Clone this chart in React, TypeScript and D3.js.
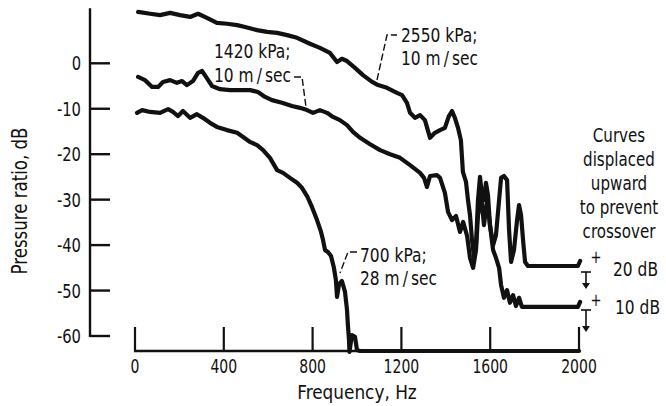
import React from "react";
import * as d3 from "d3";

// ---- data (plotted values, curves already displaced as in the original) ----
const freq2550 = [14, 68, 113, 158, 203, 248, 284, 324, 369, 414, 460, 496, 550, 595, 640, 685, 730, 788, 833, 878, 910, 932, 955, 991, 1027, 1068, 1095, 1135, 1180, 1203, 1225, 1239, 1261, 1284, 1306, 1329, 1351, 1374, 1396, 1414, 1428, 1441, 1455, 1468, 1477, 1491, 1500, 1509, 1518, 1527, 1536, 1545, 1554, 1563, 1572, 1581, 1590, 1599, 1613, 1626, 1640, 1649, 1662, 1676, 1685, 1694, 1707, 1721, 1730, 1739, 1748, 1757, 1770, 1995, 2005];
const db2550 = [11.3, 10.9, 10.6, 11.1, 10.6, 10.2, 10.9, 10.0, 8.9, 8.7, 8.4, 8.0, 7.3, 6.9, 6.7, 6.2, 5.6, 4.3, 3.4, 2.3, 0.3, 1.0, 0.5, -1.0, -2.6, -4.1, -4.8, -5.4, -6.5, -7.0, -8.7, -10.9, -12.0, -11.4, -12.5, -16.4, -15.3, -14.7, -14.2, -11.6, -10.5, -12.0, -14.2, -16.9, -23.9, -26.1, -30.1, -33.4, -38.9, -42.6, -40.0, -30.1, -25.0, -29.0, -30.1, -26.3, -29.0, -35.6, -40.0, -37.8, -30.1, -25.2, -24.8, -25.7, -36.7, -43.7, -41.1, -34.5, -31.2, -33.4, -38.9, -43.7, -44.6, -44.6, -43.5];

const freq1420 = [14, 45, 77, 104, 126, 158, 189, 212, 234, 261, 284, 302, 320, 347, 383, 428, 473, 518, 554, 586, 617, 662, 707, 743, 775, 802, 833, 865, 892, 923, 955, 982, 1014, 1059, 1104, 1149, 1194, 1239, 1284, 1302, 1315, 1329, 1360, 1374, 1396, 1410, 1428, 1446, 1464, 1478, 1496, 1509, 1523, 1536, 1545, 1559, 1572, 1586, 1599, 1613, 1626, 1640, 1649, 1662, 1676, 1689, 1703, 1716, 1730, 1743, 1995, 2005];
const db1420 = [-3.0, -3.7, -5.2, -5.2, -4.1, -3.7, -4.3, -3.9, -4.8, -3.9, -2.1, -1.7, -3.0, -5.0, -5.7, -5.9, -5.9, -5.9, -6.3, -7.4, -8.1, -8.7, -9.4, -9.8, -10.3, -10.9, -10.3, -10.9, -11.8, -12.5, -13.6, -15.1, -16.4, -17.8, -19.1, -20.0, -20.8, -22.4, -24.1, -25.2, -27.2, -24.8, -24.6, -25.2, -28.5, -32.7, -34.5, -33.6, -37.1, -34.9, -38.0, -42.8, -45.0, -41.1, -33.4, -29.0, -35.6, -30.1, -35.6, -41.1, -42.8, -45.0, -48.8, -51.6, -49.9, -52.7, -51.0, -53.4, -51.6, -53.6, -53.6, -52.5];

const freq700 = [9, 32, 68, 113, 149, 171, 194, 216, 248, 279, 306, 338, 369, 414, 460, 487, 518, 550, 577, 608, 640, 667, 698, 730, 752, 775, 797, 820, 838, 847, 856, 869, 883, 896, 905, 910, 919, 932, 946, 955, 959, 964, 966, 977, 991, 1000, 1014, 2000];
const db700 = [-10.9, -10.3, -10.7, -10.9, -10.1, -10.7, -11.6, -10.5, -12.0, -11.2, -12.0, -13.1, -14.0, -14.7, -15.3, -16.2, -17.3, -18.0, -19.1, -20.8, -23.5, -24.1, -25.2, -26.3, -27.4, -29.2, -31.6, -34.5, -37.1, -38.9, -41.1, -41.5, -42.4, -45.0, -47.7, -51.4, -48.6, -47.9, -50.3, -54.3, -57.6, -60.9, -63.5, -59.8, -60.2, -63.1, -63.3, -63.3];

const xTicks = [0, 400, 800, 1200, 1600, 2000];
const xTickLabels = ["0", "400", "800", "1200", "1600", "2000"];
const yTicks = [0, -10, -20, -30, -40, -50, -60];
const yTickLabels = ["0", "-10", "-20", "-30", "-40", "-50", "-60"];
const rightNote = ["Curves", "displaced", "upward", "to prevent", "crossover"];
const label2550 = ["2550 kPa;", "10 m\u2009/\u2009sec"];
const label1420 = ["1420 kPa;", "10 m\u2009/\u2009sec"];
const label700 = ["700 kPa;", "28 m\u2009/\u2009sec"];
const offsetLabels = ["20 dB", "10 dB"];

const W = 666;
const H = 406;
const FONT = "'DejaVu Sans Condensed', 'DejaVu Sans', sans-serif";
const black = "#111";

function Txt(props: {
  x: number;
  y: number;
  size?: number;
  sx?: number;
  anchor?: "start" | "middle" | "end";
  rotate?: number;
  children: React.ReactNode;
}) {
  const { x, y, size = 20, sx = 0.86, anchor = "start", rotate = 0 } = props;
  return (
    <text
      transform={`translate(${x},${y}) rotate(${rotate}) scale(${sx},1)`}
      textAnchor={anchor}
      fontSize={size}
      fill={black}
      fontFamily={FONT}
    >
      {props.children}
    </text>
  );
}

export default function App() {
  const x = d3.scaleLinear().domain([0, 2000]).range([135, 579]);
  const y = d3.scaleLinear().domain([-60, 0]).range([336, 63.3]);
  const line = d3
    .line<[number, number]>()
    .x((d) => x(d[0]))
    .y((d) => y(d[1]));
  const zip = (a: number[], b: number[]) => a.map((v, i) => [v, b[i]] as [number, number]);

  const xAxisY = 351;
  const yAxisX = 90;

  const leader = (pts: [number, number][]) =>
    pts.map((p, i) => (i ? "L" : "M") + p[0] + "," + p[1]).join("");

  return (
    <svg
      width={W}
      height={H}
      style={{ position: "absolute", left: 0, top: 0, background: "#fff" }}
    >
      <rect width={W} height={H} fill="#fff" />
      {/* Y axis */}
      <line x1={yAxisX} x2={yAxisX} y1={y(12.1)} y2={y(-60) + 1} stroke={black} strokeWidth={2.4} />
      {yTicks.map((t, i) => (
        <g key={t}>
          <line x1={yAxisX} x2={yAxisX + 20} y1={y(t)} y2={y(t)} stroke={black} strokeWidth={2.4} />
          <Txt x={81} y={y(t) + 7} anchor="end" sx={0.82}>
            {yTickLabels[i]}
          </Txt>
        </g>
      ))}
      <Txt x={27} y={201} anchor="middle" rotate={-90} size={21} sx={0.88}>
        Pressure ratio, dB
      </Txt>

      {/* X axis */}
      <line x1={x(0) - 1} x2={x(2000) + 1} y1={xAxisY} y2={xAxisY} stroke={black} strokeWidth={2.4} />
      {xTicks.map((t, i) => (
        <g key={t}>
          <line x1={x(t)} x2={x(t)} y1={xAxisY} y2={xAxisY - 24} stroke={black} strokeWidth={2.2} />
          <Txt x={x(t)} y={373} anchor="middle" size={19} sx={0.82}>
            {xTickLabels[i]}
          </Txt>
        </g>
      ))}
      <Txt x={357} y={399} anchor="middle" sx={0.94}>
        Frequency, Hz
      </Txt>

      {/* curves */}
      {[zip(freq2550, db2550), zip(freq1420, db1420), zip(freq700, db700)].map((d, i) => (
        <path
          key={i}
          d={line(d) || ""}
          fill="none"
          stroke={black}
          strokeWidth={4.2}
          strokeLinejoin="round"
          strokeLinecap="round"
        />
      ))}

      {/* curve labels */}
      {label2550.map((s, i) => (
        <Txt key={s + i} x={401} y={42 + i * 23} sx={0.86}>
          {s}
        </Txt>
      ))}
      <path d={leader([[377, 80], [387, 35], [397, 35]])} fill="none" stroke={black} strokeWidth={1.4} strokeDasharray="7,3" />

      {label1420.map((s, i) => (
        <Txt key={s + i} x={214} y={58 + i * 24} sx={0.86}>
          {s}
        </Txt>
      ))}
      <path d={leader([[294, 77], [302, 77], [306, 107]])} fill="none" stroke={black} strokeWidth={1.4} strokeDasharray="7,3" />

      {label700.map((s, i) => (
        <Txt key={s + i} x={360} y={262 + i * 23} sx={0.86}>
          {s}
        </Txt>
      ))}
      <path d={leader([[357, 252], [348, 252], [340, 273]])} fill="none" stroke={black} strokeWidth={1.4} strokeDasharray="7,3" />

      {/* right note */}
      {rightNote.map((s, i) => (
        <Txt key={s} x={619} y={142 + i * 24} anchor="middle" sx={0.84}>
          {s}
        </Txt>
      ))}

      {/* displacement markers */}
      {[
        { bar: 272, tip: 289, plus: 263, lbl: 276, lx: 613 },
        { bar: 310, tip: 332, plus: 306, lbl: 314, lx: 615 },
      ].map((m, i) => (
        <g key={i}>
          <line x1={581} x2={591} y1={m.bar} y2={m.bar} stroke={black} strokeWidth={1.6} />
          <line x1={586} x2={586} y1={m.bar} y2={m.tip - 5} stroke={black} strokeWidth={1.6} />
          <path d={`M582,${m.tip - 6}L590,${m.tip - 6}L586,${m.tip}Z`} fill={black} />
          <Txt x={596} y={m.plus} anchor="middle" size={17}>
            +
          </Txt>
          <Txt x={m.lx} y={m.lbl}>
            {offsetLabels[i]}
          </Txt>
        </g>
      ))}
    </svg>
  );
}
